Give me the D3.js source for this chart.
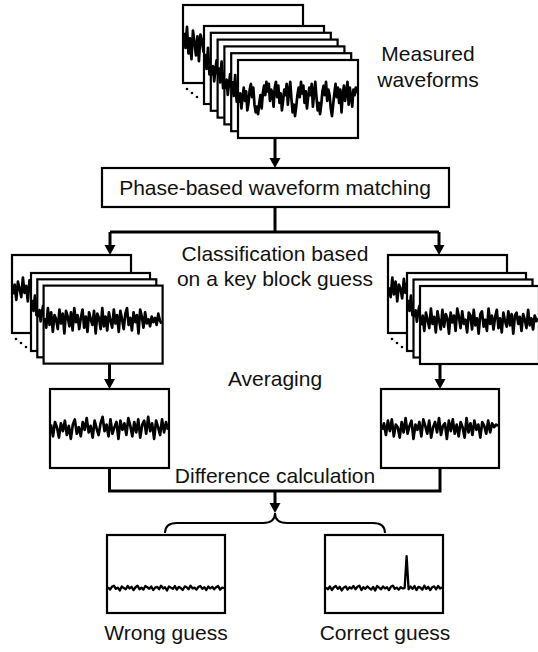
<!DOCTYPE html>
<html><head><meta charset="utf-8">
<script src="https://cdn.jsdelivr.net/npm/d3@7"></script>
<style>body{margin:0;background:#fff}svg{display:block}text{font-family:"Liberation Sans",Arial,sans-serif;font-size:21px;fill:#111}</style>
</head><body>
<script>
// ---- data ----
const measuredA=[-0.2,0.3,-0.5,0.1,0.6,-0.1,0.4,-0.6,-0.2,0.5,0.8,0.1,0.6,-0.3,-0.7,-0.4,-0.8,-0.2,0.2,-0.5,0.3,0.7,0.2,0.9,0.4,0.8,-0.1,0.5,0.3,-0.4,0.6,0.9,0.1,0.7,-0.2,0.3,-0.6,-0.1,0.5,0.2,0.8,-0.3,0.4,0.9,0.0,-0.7,-0.3,-0.9,-0.4,0.2,0.6,0.1,0.9,0.3,0.7,-0.2,0.4,-0.5,0.1,0.6,0.2,0.8,-0.4,0.3,0.9,0.1,-0.6,-0.2,-0.8,-0.3,0.4,0.7,0.2,0.9,-0.1,0.5,0.2,-0.5,-0.9,-0.3,0.3,0.8,0.1,0.6,-0.2,0.5,-0.7,0.2,0.7,-0.1,0.4,0.9,-0.3,0.6,0.1,-0.4,0.5,0.2,0.6,0.3];
const measuredB=[0.6,-0.2,0.9,-0.5,0.3,-0.8,0.7,0.1,-0.6,0.4,-0.9,0.5,0.2,-0.4,0.8,-0.7,0.3,0.6,-0.5,0.1,-0.8,0.9,-0.3,0.4,-0.6,0.7,0.0,-0.9,0.5,0.3,-0.7,0.8,-0.2,0.6,-0.5,0.2,0.9,-0.8,0.4,-0.1,0.7,-0.6,0.3,0.5,-0.9,0.8,-0.4,0.1,0.6,-0.7,0.9,-0.2,0.4,-0.5,0.7,-0.8,0.2,0.5,-0.3,0.9,-0.6,0.1,0.7,-0.4,0.3,-0.9,0.6,0.2,-0.5,0.8,-0.1,0.4,-0.7,0.5,0.1,-0.6,0.8,-0.3,0.2,0.4];
const classA=[0.2,-0.5,0.9,-0.3,0.6,-0.8,0.4,0.1,-0.6,0.8,-0.2,0.5,-0.9,0.7,0.3,-0.4,0.6,-0.7,0.9,-0.1,0.4,-0.6,0.2,0.8,-0.5,0.3,-0.8,0.6,0.1,-0.3,0.7,-0.9,0.5,0.2,-0.6,0.9,-0.4,0.3,-0.7,0.6,0.0,-0.5,0.8,-0.2,0.4,-0.8,0.7,0.1,-0.6,0.5,0.9,-0.3,0.2,-0.7,0.6,-0.1,0.4,-0.9,0.8,0.3,-0.5,0.6,-0.2,0.1,-0.4,0.3,-0.1,0.2,-0.3,0.5,0.0,-0.2];
const classB=[-0.3,0.4,-0.7,0.6,0.1,-0.5,0.9,-0.2,0.3,-0.8,0.7,0.0,-0.6,0.8,-0.4,0.5,0.2,-0.9,0.6,-0.1,0.4,-0.7,0.9,0.3,-0.5,0.7,-0.2,0.1,-0.8,0.6,0.4,-0.6,0.8,-0.3,0.2,-0.9,0.5,0.7,-0.4,0.1,-0.7,0.9,-0.2,0.4,-0.6,0.3,0.8,-0.5,0.2,-0.8,0.6,0.0,-0.4,0.7,-0.3,0.5,-0.9,0.4,0.6,-0.2,0.3,-0.7,0.5,0.1,-0.5,0.8,-0.3,0.2,-0.6,0.4,0.0,0.2];
const avgLeft=[0.3,-0.6,0.5,0.1,-0.7,0.4,-0.2,0.6,-0.5,0.2,-0.8,0.3,0.7,-0.4,0.1,-0.6,0.5,-0.1,0.8,-0.3,0.2,-0.7,0.6,0.0,-0.5,0.4,0.9,-0.2,0.3,-0.6,0.7,-0.4,0.1,0.5,-0.8,0.6,-0.1,0.4,-0.5,0.8,0.2,-0.6,0.5,-0.3,0.7,-0.7,0.3,0.6,-0.4,0.9,-0.2,0.4,-0.8,0.6,0.1,-0.5,0.7,-0.3,0.5,-0.1];
const avgRight=[-0.1,0.4,-0.5,0.6,-0.2,0.7,-0.6,0.3,0.1,-0.7,0.5,-0.3,0.8,-0.4,0.2,0.6,-0.8,0.3,-0.1,0.5,-0.6,0.7,0.2,-0.4,0.6,-0.7,0.1,0.5,-0.3,0.8,-0.5,0.2,0.4,-0.8,0.6,-0.2,0.7,-0.4,0.3,-0.6,0.5,0.1,-0.7,0.8,-0.3,0.4,-0.5,0.6,-0.1,0.3,-0.7,0.5,0.2,-0.4,0.6,-0.3,0.4,0.1,0.3,0.2];
const diffWrong=[0.2,-0.4,0.3,0.6,-0.2,0.1,-0.6,0.4,0.0,-0.3,0.5,-0.1,0.3,-0.5,0.2,0.6,-0.3,0.1,-0.4,0.5,0.2,-0.2,0.4,-0.5,0.1,0.3,-0.3,0.6,-0.1,0.2,-0.6,0.4,0.1,-0.2,0.5,-0.4,0.3,0.0,-0.5,0.4,0.2,-0.3,0.6,-0.1,0.1,-0.4,0.3,0.5,-0.2,0.2,-0.5,0.4,-0.1,0.3,-0.3,0.2,0.5,-0.4,0.1,0.0];
const diffCorrect=[0.1,-0.3,0.4,-0.5,0.2,0.5,-0.2,0.3,-0.6,0.1,0.4,-0.4,0.2,-0.1,0.5,-0.3,0.3,0.6,-0.5,0.2,-0.2,0.4,0.0,-0.4,0.3,-0.6,0.5,0.1,-0.3,0.4,-0.1,0.2,-0.5,0.3,0.6,-0.2,0.1,-0.4,0.2,-0.1,0.0,8.0,-0.3,0.4,-0.2,0.5,-0.5,0.3,0.1,-0.4,0.6,-0.2,0.3,-0.5,0.2,0.4,-0.3,0.5,-0.1,0.2];
const labels={measured:["Measured","waveforms"],matching:"Phase-based waveform matching",classify:["Classification based","on a key block guess"],averaging:"Averaging",difference:"Difference calculation",wrong:"Wrong guess",correct:"Correct guess"};

// ---- drawing ----
const W=538,H=652;
const svg=d3.select("body").append("svg").attr("width",W).attr("height",H);
const defs=svg.append("defs");
let cid=0;
function panel(x,y,w,h,data,mid,amp,sw){
  const id="clip"+(cid++);
  defs.append("clipPath").attr("id",id).append("rect").attr("x",x).attr("y",y).attr("width",w).attr("height",h);
  const g=svg.append("g");
  g.append("rect").attr("x",x).attr("y",y).attr("width",w).attr("height",h).attr("fill","#fff");
  const xs=d3.scaleLinear().domain([0,data.length-1]).range([x+1,x+w-1]);
  const ys=d3.scaleLinear().domain([-1,1]).range([y+h*mid+amp,y+h*mid-amp]);
  g.append("path").datum(data).attr("clip-path",`url(#${id})`)
    .attr("d",d3.line().x((d,i)=>xs(i)).y(d=>ys(d)))
    .attr("fill","none").attr("stroke","#000").attr("stroke-width",sw||2.7).attr("stroke-linejoin","round");
  g.append("rect").attr("x",x).attr("y",y).attr("width",w).attr("height",h)
    .attr("fill","none").attr("stroke","#000").attr("stroke-width",2.2);
}
function dots(x,y){
  [[4,6],[9,10],[14,14]].forEach(([dx,dy])=>svg.append("circle").attr("cx",x+dx).attr("cy",y+dy).attr("r",1.3).attr("fill","#000"));
}
function stack(bx,by,w,h,fx,fy,step,n,backData,frontData,mid,amp){
  panel(bx,by,w,h,backData,mid,amp);
  dots(bx,by+h);
  for(let i=0;i<n;i++){
    const d=i===n-1?frontData:(i%2?measuredA:measuredB);
    panel(fx+i*step,fy+i*step,w,h,d,mid,amp);
  }
}
function line(pts,sw){
  svg.append("path").attr("d",d3.line()(pts)).attr("fill","none").attr("stroke","#000").attr("stroke-width",sw||3).attr("stroke-linejoin","miter");
}
function arrow(x,y1,y2){
  line([[x,y1],[x,y2-9]]);
  svg.append("path").attr("d",`M${x-5.5},${y2-10}L${x+5.5},${y2-10}L${x},${y2}Z`).attr("fill","#000");
}
function txt(x,y,s,anchor){
  svg.append("text").attr("x",x).attr("y",y).attr("text-anchor",anchor||"middle").text(s);
}

// top stack
stack(183,5,120,78,204,26,6.8,6,measuredB,measuredA,0.5,19);
txt(428,61,labels.measured[0]);
txt(428,87,labels.measured[1]);
arrow(275,138,168);

// matching box
svg.append("rect").attr("x",102).attr("y",168).attr("width",347).attr("height",39).attr("fill","#fff").attr("stroke","#000").attr("stroke-width",2.2);
txt(275,195,labels.matching);

// split
line([[275,207],[275,232]]);
line([[110,232],[439,232]]);
arrow(110,232,255);
arrow(439,232,255);
txt(275,261,labels.classify[0]);
txt(275,286,labels.classify[1]);

// classified stacks
stack(12,255,119,78,31,273,6.3,3,classB,classA,0.45,14);
stack(388,255,119,78,407,273,6.5,3,classA,classB,0.45,14);

// averaging
arrow(109.5,364,389);
arrow(440,364,389);
panel(50,389,119,79,avgLeft,0.5,13);
panel(381,389,118,79,avgRight,0.5,13);
txt(275,386,labels.averaging);

// difference
line([[109.5,468],[109.5,491],[440,491],[440,468]]);
txt(275,483,labels.difference);
arrow(275,491,513);
svg.append("path").attr("d","M165,533 Q165,523 177,523 L263,523 Q275,523 275,513 Q275,523 287,523 L373,523 Q385,523 385,533")
  .attr("fill","none").attr("stroke","#000").attr("stroke-width",2);

panel(107,535,118,78,diffWrong,0.68,4,2.3);
panel(325,535,118,78,diffCorrect,0.68,4,2.3);
txt(166,640,labels.wrong);
txt(385,640,labels.correct);
</script>
</body></html>
